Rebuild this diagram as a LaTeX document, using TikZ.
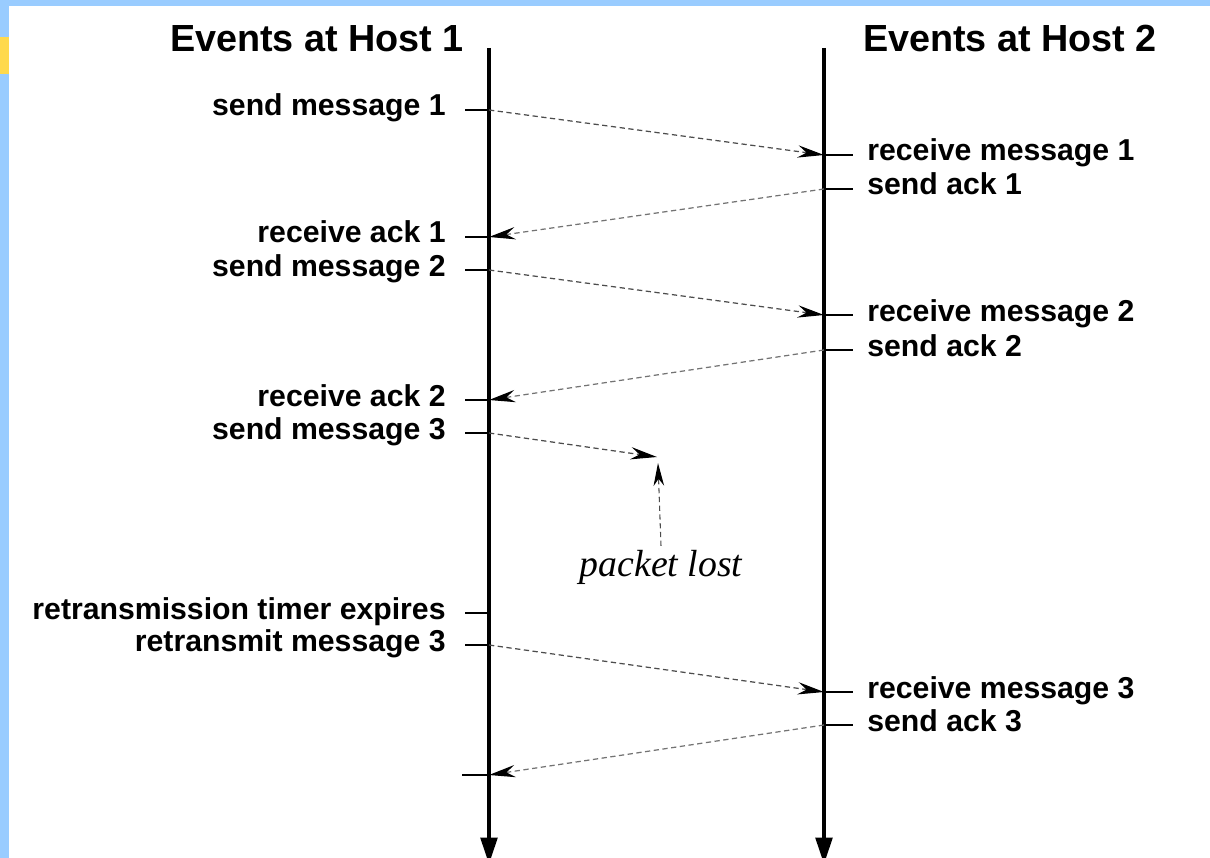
\documentclass[tikz,border=0pt]{standalone}
\usepackage{fontspec}
\setmainfont{Liberation Sans}
\newfontfamily\lostfont{Liberation Serif}
\usetikzlibrary{arrows.meta}
\definecolor{frameblue}{RGB}{153,204,255}
\definecolor{tabyellow}{RGB}{255,217,77}
\begin{document}
\begin{tikzpicture}[x=0.02cm,y=-0.02cm,
  timeline/.style={line width=1.9pt,-{Triangle[length=15pt,width=9.5pt]}},
  tickmark/.style={line width=1.3pt},
  msg/.style={black!70,line width=0.7pt,dash pattern=on 3pt off 2pt,
    -{Stealth[length=15pt,width=7pt,inset=5pt,black]}},
  ack/.style={msg,black!55},
  evleft/.style={font=\fontsize{17.2}{20}\selectfont\bfseries,anchor=base east,inner sep=0pt},
  evright/.style={font=\fontsize{17.2}{20}\selectfont\bfseries,anchor=base west,inner sep=0pt},
  hosttitle/.style={font=\fontsize{21.5}{25}\selectfont\bfseries,anchor=base,inner sep=0pt},
  note/.style={font=\lostfont\itshape\fontsize{21.5}{25}\selectfont,anchor=base,inner sep=2pt}
]
\useasboundingbox[fill=white] (0,0) rectangle (1210,858);
% window frame strips
\fill[frameblue] (0,0) rectangle (1210,6);
\fill[frameblue] (0,0) rectangle (9,858);
\fill[tabyellow] (0,37) rectangle (9,74);

% host titles
\node[hosttitle] (t1) at (317,52) {Events at Host 1};
\node[hosttitle] (t2) at (1010,52) {Events at Host 2};

% time lines
\coordinate (h1top) at (489,48);
\coordinate (h1bot) at (489,864);
\coordinate (h2top) at (824,48);
\coordinate (h2bot) at (824,864);
\draw[timeline] (h1top) -- (h1bot);
\draw[timeline] (h2top) -- (h2bot);

% events at host 1
\foreach \name/\y/\txt in {sm1/110/send message 1, ra1/237/receive ack 1,
    sm2/270/send message 2, ra2/400/receive ack 2, sm3/433/send message 3,
    rte/613/retransmission timer expires, rt3/645/retransmit message 3}{
  \coordinate (a\name) at (489,\y);
  \coordinate (b\name) at (465,\y);
  \draw[tickmark] (b\name) -- (a\name);
  \node[evleft] (l\name) at (446,\y+6) {\txt};
}
\coordinate (ara3) at (489,775);
\coordinate (bra3) at (462,775);
\draw[tickmark] (bra3) -- (ara3);

% events at host 2
\foreach \name/\y/\txt in {rm1/155/receive message 1, sa1/189/send ack 1,
    rm2/315/receive message 2, sa2/350/send ack 2,
    rm3/692/receive message 3, sa3/725/send ack 3}{
  \coordinate (a\name) at (824,\y);
  \coordinate (b\name) at (853,\y);
  \draw[tickmark] (a\name) -- (b\name);
  \node[evright] (l\name) at (867,\y+6) {\txt};
}

% messages and acknowledgements
\draw[msg] (asm1) -- (arm1);
\draw[ack] (asa1) -- (ara1);
\draw[msg] (asm2) -- (arm2);
\draw[ack] (asa2) -- (ara2);
\coordinate (lost) at (657,457);
\draw[msg] (asm3) -- (lost);
\draw[msg] (art3) -- (arm3);
\draw[ack] (asa3) -- (ara3);

% lost packet note
\node[note] (lostlbl) at (661,576) {packet lost};
\coordinate (losttip) at (658,463);
\draw[msg,line width=0.6pt,-{Stealth[length=13pt,width=6pt,inset=4pt,black]}] (lostlbl.north) -- (losttip);
\end{tikzpicture}
\end{document}
